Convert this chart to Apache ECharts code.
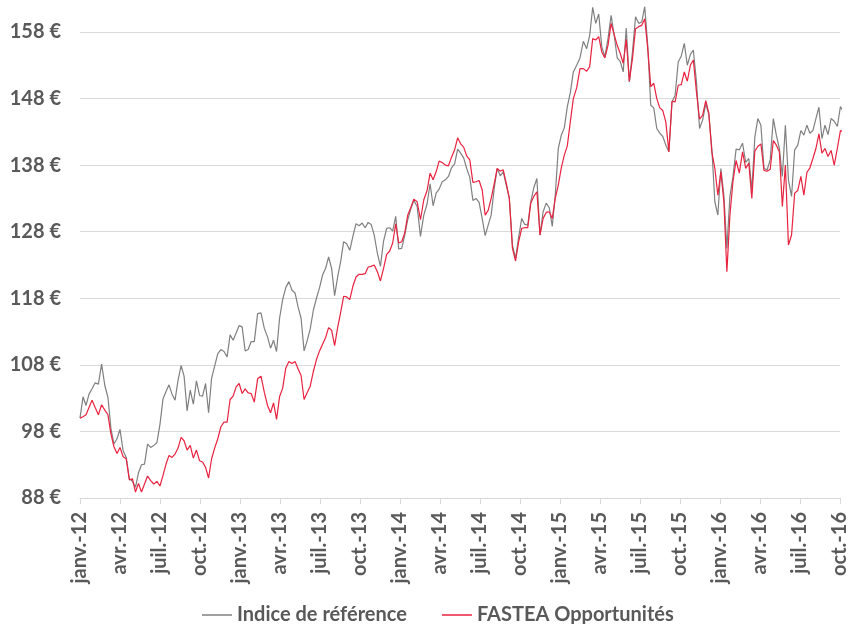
<!DOCTYPE html>
<html>
<head>
<meta charset="utf-8">
<script src="https://cdn.jsdelivr.net/npm/echarts@6/dist/echarts.min.js"></script>
<style>
  html, body { margin: 0; padding: 0; background: #fff; }
  #chart { width: 855px; height: 624px; }
</style>
</head>
<body>
<div id="chart"></div>
<script>
// weekly values, first week = 1 Jan 2012
const startDate = Date.UTC(2012, 0, 1);

const tickLabels = [
  'janv.-12', 'avr.-12', 'juil.-12', 'oct.-12',
  'janv.-13', 'avr.-13', 'juil.-13', 'oct.-13',
  'janv.-14', 'avr.-14', 'juil.-14', 'oct.-14',
  'janv.-15', 'avr.-15', 'juil.-15', 'oct.-15',
  'janv.-16', 'avr.-16', 'juil.-16', 'oct.-16'
];

const seriesNames = ['Indice de référence', 'FASTEA Opportunités'];

// Indice de référence
const refValues = [
  100, 103.2, 101.9, 103.6, 104.4, 105.3, 105.1, 108.1, 104.9, 103.1,
  98.4, 96.1, 96.9, 98.3, 95.1, 94.1, 90.9, 90.5, 89.6, 91.8,
  93.0, 93.1, 96.1, 95.6, 95.9, 96.3, 99.1, 102.9, 104.0, 105.0,
  103.6, 102.7, 105.7,
  107.9, 106.3, 101.1, 104.2, 102.1, 105.6, 103.4, 103.3, 105.2, 100.8,
  106.0, 107.8, 109.7, 110.3, 110.0, 109.2, 112.5, 111.7, 112.8, 113.9,
  113.7, 110.1, 110.3, 111.5, 111.5, 115.7, 115.8, 113.5, 112.2, 110.5,
  111.7, 110.0, 115.0, 117.8, 119.6, 120.5, 119.2, 118.8, 116.7, 115.0,
  110.1, 111.6, 113.4, 116.2, 118.0, 119.6, 121.5, 122.5, 124.2, 122.5,
  118.4, 121.2, 123.5, 126.5, 126.2, 125.2, 127.3, 129.2, 128.9, 129.3,
  128.6,
  129.4, 129.1, 127.5, 124.8, 122.8, 126.6, 128.5, 128.6, 128.1, 130.3,
  125.4, 125.5, 127.5, 129.8, 131.4, 132.7, 131.8, 127.3, 130.5, 132.2,
  135.2, 131.9, 133.8, 134.4, 135.5, 135.8, 136.3, 137.6, 138.2, 140.4,
  139.8, 139.1,
  137.5, 136.2, 132.7, 133.0, 132.4, 130.0, 127.4, 129.0, 130.5, 134.5,
  137.5, 136.4, 137.0, 135.0, 133.0, 126.0, 124.0, 127.2, 130.0, 129.1,
  129.0, 132.5, 134.6, 136.0, 127.5, 131.0, 132.3, 131.6, 128.8, 133.5,
  140.5, 142.5,
  143.6, 146.8, 148.9, 152.0, 153.0, 154.1, 156.6, 155.5, 157.5, 161.7,
  159.3, 160.7, 155.8, 154.3, 157.0, 160.5, 157.5, 154.1, 153.6, 152.0,
  158.6, 150.5, 155.0, 160.3, 159.3, 159.5, 161.8, 156.0, 147.0, 146.6,
  143.5, 142.8,
  142.3, 141.0, 140.0, 147.5, 148.5, 153.5, 154.4, 156.3, 153.0, 154.6,
  155.3, 150.5, 143.5, 144.8, 147.2, 145.6, 140.5, 132.5, 130.5, 137.5,
  133.5, 125.5, 133.3, 136.2, 140.4, 140.3, 141.3, 138.4, 139.0,
  134.3, 142.2, 145.0, 144.0, 137.5, 137.3, 138.8, 145.0, 142.5, 140.5,
  136.3, 144.0, 135.8, 133.3, 140.3, 141.0, 143.2, 142.5, 144.0, 142.8,
  143.2, 145.0, 146.7, 142.0, 144.0, 142.6, 145.0, 144.6, 143.8, 146.8,
  146.0
];

// FASTEA Opportunités
const fasteaValues = [
  100, 100.2, 100.5, 101.6, 102.7, 101.6, 100.5, 102.0, 101.2, 100.5,
  97.6, 95.7, 94.7, 95.6, 94.2, 93.9, 90.7, 90.9, 88.9, 90.2,
  88.9, 90.1, 91.3, 90.6, 90.1, 90.5, 89.8, 91.4, 93.1, 94.4,
  94.1, 94.6, 95.5,
  97.1, 96.6, 95.2, 95.9, 94.0, 95.2, 93.6, 93.4, 92.6, 91.0,
  93.9, 95.5, 96.9, 98.7, 99.4, 99.4, 102.8, 103.3, 104.7, 105.2,
  103.7, 104.4, 103.8, 103.7, 102.4, 105.9, 106.3, 103.9, 101.9, 100.8,
  102.3, 99.8, 103.2, 104.5, 107.5, 108.5, 108.2, 108.5, 107.4, 106.4,
  102.8, 103.8, 104.8, 107.0, 108.8, 110.1, 111.1, 112.1, 113.6, 113.2,
  110.9, 113.6, 115.9, 118.3, 118.2, 117.8, 119.8, 121.2, 121.6, 121.6,
  121.7,
  122.7, 122.8, 123.0, 122.0, 120.6, 122.5, 124.6, 125.1, 126.3, 129.2,
  126.3, 126.5, 127.8, 130.5, 131.6, 132.9, 132.5, 129.8, 132.8, 134.2,
  136.8, 135.8, 137.0, 138.6, 138.4, 138.0, 137.9, 139.2, 140.3, 142.1,
  141.2, 140.7,
  139.4, 138.8, 135.4, 135.5, 135.7, 134.3, 130.5, 131.2, 133.0, 135.2,
  137.5, 137.1, 137.3, 135.3, 133.0, 125.5, 123.6, 126.5, 128.5, 128.6,
  128.6, 132.3, 133.3, 134.0, 127.5, 130.0, 130.9, 131.0, 130.0, 133.0,
  135.0, 137.6,
  139.5, 140.9, 144.5, 148.0, 149.6, 152.5, 152.5, 152.1, 152.8, 157.0,
  156.8, 157.3, 155.0, 154.1, 156.0, 159.3, 157.6, 156.0, 154.8, 153.3,
  156.9, 150.6, 154.0, 158.5, 158.8, 159.0, 160.0, 155.5, 149.8, 150.3,
  148.0, 146.6, 146.2, 144.5, 140.0, 147.6, 147.5, 150.0, 150.1, 152.0,
  150.6, 153.0, 153.8, 149.0, 144.9, 145.5, 147.7, 145.8, 140.0, 137.5,
  133.5, 137.0, 132.5, 122.0, 130.4, 135.5, 138.7, 136.8, 140.0, 137.5,
  138.3,
  133.0, 140.1, 140.8, 141.2, 137.2, 137.1, 137.4, 141.7, 141.0, 140.0,
  131.8, 138.0, 126.0, 127.5, 133.8, 134.2, 136.3, 133.5, 136.9, 137.6,
  139.0, 140.5, 142.7, 139.8, 140.5, 139.3, 140.2, 138.0, 140.5, 143.2,
  143.0
];

// date -> months since janv.-12 (x axis unit)
function monthPos(t) {
  const d = new Date(t);
  const y = d.getUTCFullYear(), m = d.getUTCMonth();
  const dim = new Date(Date.UTC(y, m + 1, 0)).getUTCDate();
  return (y - 2012) * 12 + m + (d.getUTCDate() - 1) / dim;
}

function toPairs(values) {
  return values.map((v, i) => [monthPos(startDate + i * 7 * 86400000), v]);
}

const textColor = '#595959';
const gridColor = '#d9d9d9';
const greyLine = '#808080';
const redLine = '#e8223f';
const font = 'Lato';

const chart = echarts.init(document.getElementById('chart'));
chart.setOption({
  animation: false,
  grid: { left: 80, right: 15, top: 32, bottom: 126, containLabel: false },
  legend: {
    left: 197,
    top: 600,
    icon: 'rect',
    itemWidth: 30,
    itemHeight: 1.5,
    itemGap: 35,
    textStyle: { color: textColor, fontFamily: font, fontWeight: 'bold', fontSize: 20 },
    data: seriesNames
  },
  xAxis: {
    type: 'value',
    min: 0,
    max: 57,
    interval: 3,
    axisLine: { show: true, onZero: false, lineStyle: { color: gridColor, width: 1 } },
    axisTick: { show: true, length: 6, lineStyle: { color: gridColor } },
    splitLine: { show: false },
    axisLabel: {
      rotate: 90,
      margin: 14,
      color: textColor,
      fontFamily: font,
      fontWeight: 'bold',
      fontSize: 20,
      formatter: v => (v % 3 === 0 ? tickLabels[v / 3] : '')
    }
  },
  yAxis: {
    type: 'value',
    min: 88,
    max: 158,
    interval: 10,
    axisLine: { show: false },
    axisTick: { show: false },
    splitLine: { lineStyle: { color: gridColor, width: 1 } },
    axisLabel: {
      margin: 19,
      color: textColor,
      fontFamily: font,
      fontWeight: 'bold',
      fontSize: 20,
      formatter: '{value} €'
    }
  },
  series: [
    {
      name: seriesNames[0],
      type: 'line',
      symbol: 'none',
      clip: false,
      lineStyle: { color: greyLine, width: 1.2 },
      itemStyle: { color: greyLine },
      data: toPairs(refValues)
    },
    {
      name: seriesNames[1],
      type: 'line',
      symbol: 'none',
      clip: false,
      lineStyle: { color: redLine, width: 1.2 },
      itemStyle: { color: redLine },
      data: toPairs(fasteaValues)
    }
  ]
});
</script>
</body>
</html>
